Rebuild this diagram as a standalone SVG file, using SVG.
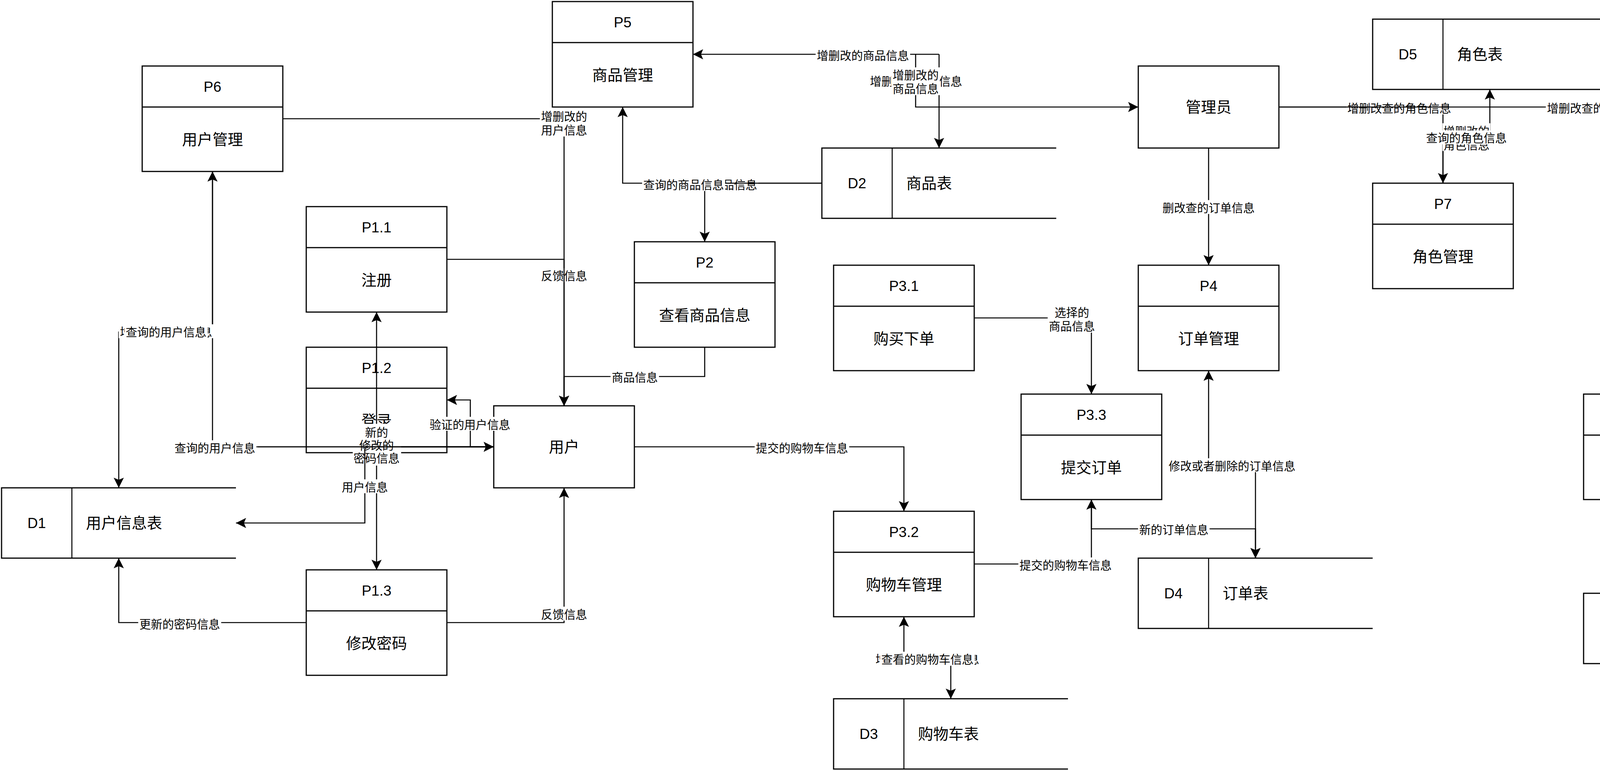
<svg xmlns="http://www.w3.org/2000/svg" width="4659" height="1974" viewBox="0 0 4659 1974">
<defs>
<style>
.n{fill:#fff;stroke:#000;stroke-width:3}
.s{fill:none;stroke:#000;stroke-width:3}
.d{fill:none;stroke:#000;stroke-width:2.6}
.e{fill:none;stroke:#000;stroke-width:2.7}
text{font-family:"Liberation Sans","Noto Sans CJK SC",sans-serif;fill:#000}
.id{font-size:37px;text-anchor:middle}
.nm{font-size:39px;text-anchor:middle}
.sn{font-size:39px}
.l{font-size:29.5px;text-anchor:middle}
.b{fill:#fff}
</style>
<marker id="a" viewBox="0 0 26 26" markerWidth="26" markerHeight="26" refX="26" refY="13" orient="auto" markerUnits="userSpaceOnUse"><path d="M0,0 L26,13 L0,26 L5.5,13 Z" fill="#000"/></marker>
</defs>
<rect x="0" y="0" width="4659" height="1974" fill="#fff"/>

<g id="P5"><rect class="n" x="1414" y="4" width="360" height="270"/><path class="s" d="M1414,109H1774"/><text class="id" x="1594" y="70">P5</text><text class="nm" x="1594" y="206">商品管理</text></g>
<g id="P6"><rect class="n" x="364" y="169" width="360" height="270"/><path class="s" d="M364,274H724"/><text class="id" x="544" y="235">P6</text><text class="nm" x="544" y="371">用户管理</text></g>
<g id="P1.1"><rect class="n" x="784" y="529" width="360" height="270"/><path class="s" d="M784,634H1144"/><text class="id" x="964" y="595">P1.1</text><text class="nm" x="964" y="731">注册</text></g>
<g id="P1.2"><rect class="n" x="784" y="889" width="360" height="270"/><path class="s" d="M784,994H1144"/><text class="id" x="964" y="955">P1.2</text><text class="nm" x="964" y="1091">登录</text></g>
<g id="P1.3"><rect class="n" x="784" y="1459" width="360" height="270"/><path class="s" d="M784,1564H1144"/><text class="id" x="964" y="1525">P1.3</text><text class="nm" x="964" y="1661">修改密码</text></g>
<g id="P2"><rect class="n" x="1624" y="619" width="360" height="270"/><path class="s" d="M1624,724H1984"/><text class="id" x="1804" y="685">P2</text><text class="nm" x="1804" y="821">查看商品信息</text></g>
<g id="P3.1"><rect class="n" x="2134" y="679" width="360" height="270"/><path class="s" d="M2134,784H2494"/><text class="id" x="2314" y="745">P3.1</text><text class="nm" x="2314" y="881">购买下单</text></g>
<g id="P3.2"><rect class="n" x="2134" y="1309" width="360" height="270"/><path class="s" d="M2134,1414H2494"/><text class="id" x="2314" y="1375">P3.2</text><text class="nm" x="2314" y="1511">购物车管理</text></g>
<g id="P3.3"><rect class="n" x="2614" y="1009" width="360" height="270"/><path class="s" d="M2614,1114H2974"/><text class="id" x="2794" y="1075">P3.3</text><text class="nm" x="2794" y="1211">提交订单</text></g>
<g id="P4"><rect class="n" x="2914" y="679" width="360" height="270"/><path class="s" d="M2914,784H3274"/><text class="id" x="3094" y="745">P4</text><text class="nm" x="3094" y="881">订单管理</text></g>
<g id="P7"><rect class="n" x="3514" y="469" width="360" height="270"/><path class="s" d="M3514,574H3874"/><text class="id" x="3694" y="535">P7</text><text class="nm" x="3694" y="671">角色管理</text></g>
<g id="P8"><rect class="n" x="4054" y="1009" width="360" height="270"/><path class="s" d="M4054,1114H4414"/><text class="id" x="4234" y="1075">P8</text><text class="nm" x="4234" y="1211">商品分类管理</text></g>

<g id="user"><rect class="n" x="1264" y="1039" width="360" height="210"/><text class="nm" x="1444" y="1158">用户</text></g>
<g id="admin"><rect class="n" x="2914" y="169" width="360" height="210"/><text class="nm" x="3094" y="288">管理员</text></g>

<g id="D1"><path class="s" d="M604,1249H4V1429H604"/><path class="d" d="M184,1249V1429"/><text class="id" x="94" y="1352">D1</text><text class="sn" x="220" y="1353">用户信息表</text></g>
<g id="D2"><path class="s" d="M2704,379H2104V559H2704"/><path class="d" d="M2284,379V559"/><text class="id" x="2194" y="482">D2</text><text class="sn" x="2320" y="483">商品表</text></g>
<g id="D3"><path class="s" d="M2734,1789H2134V1969H2734"/><path class="d" d="M2314,1789V1969"/><text class="id" x="2224" y="1892">D3</text><text class="sn" x="2350" y="1893">购物车表</text></g>
<g id="D4"><path class="s" d="M3514,1429H2914V1609H3514"/><path class="d" d="M3094,1429V1609"/><text class="id" x="3004" y="1532">D4</text><text class="sn" x="3130" y="1533">订单表</text></g>
<g id="D5"><path class="s" d="M4114,49H3514V229H4114"/><path class="d" d="M3694,49V229"/><text class="id" x="3604" y="152">D5</text><text class="sn" x="3730" y="153">角色表</text></g>
<g id="D6"><path class="s" d="M4654,1519H4054V1699H4654"/><path class="d" d="M4234,1519V1699"/><text class="id" x="4144" y="1622">D6</text><text class="sn" x="4270" y="1623">商品分类表</text></g>

<g id="connectors">
<path class="e" d="M1264,1144H964V799" marker-end="url(#a)"/>
<path class="e" d="M1264,1144H964V1459" marker-end="url(#a)"/>
<rect class="b" x="903" y="1085" width="124" height="107"/><text class="l"><tspan x="964" y="1117.6">新的</tspan><tspan x="964" y="1150.6">修改的</tspan><tspan x="964" y="1183.6">密码信息</tspan></text>
<path class="e" d="M1264,1144H934V1339H604" marker-end="url(#a)"/>
<rect class="b" x="872" y="1227.3" width="124" height="35.5"/><text class="l" x="934" y="1257.6">用户信息</text>
<path class="e" d="M660,1144H1264" marker-end="url(#a)"/>
<path class="e" d="M1264,1144H544V439" marker-end="url(#a)"/>
<rect class="b" x="443.8" y="1127.3" width="212.5" height="35.5"/><text class="l" x="550" y="1157.6">查询的用户信息</text>
<path class="e" d="M544,439V850H304V1249" marker-end="url(#a)"/>
<rect class="b" x="304" y="830.3" width="242" height="35.5"/><text class="l" x="425" y="860.6">增删改的用户信息</text>
<rect class="b" x="318.8" y="830.3" width="212.5" height="35.5"/><text class="l" x="425" y="860.6">查询的用户信息</text>
<path class="e" d="M1264,1144H1204V1024H1144" marker-end="url(#a)"/>
<rect class="b" x="1096.8" y="1067.3" width="212.5" height="35.5"/><text class="l" x="1203" y="1097.6">验证的用户信息</text>
<path class="e" d="M784,1594H304V1429" marker-end="url(#a)"/>
<rect class="b" x="353.8" y="1578.3" width="212.5" height="35.5"/><text class="l" x="460" y="1608.6">更新的密码信息</text>
<path class="e" d="M1144,1594H1444V1249" marker-end="url(#a)"/>
<rect class="b" x="1382" y="1553.3" width="124" height="35.5"/><text class="l" x="1444" y="1583.6">反馈信息</text>
<path class="e" d="M1144,664H1444V1039" marker-end="url(#a)"/>
<rect class="b" x="1382" y="686.9" width="124" height="35.5"/><text class="l" x="1444" y="717.2">反馈信息</text>
<path class="e" d="M724,304H1444V1039" marker-end="url(#a)"/>
<rect class="b" x="1382" y="278.5" width="124" height="71"/><text class="l"><tspan x="1444" y="308.9">增删改的</tspan><tspan x="1444" y="344.4">用户信息</tspan></text>
<path class="e" d="M1804,889V964H1444V1039" marker-end="url(#a)"/>
<rect class="b" x="1563" y="946.3" width="124" height="35.5"/><text class="l" x="1625" y="976.6">商品信息</text>
<path class="e" d="M1624,1144H2314V1309" marker-end="url(#a)"/>
<rect class="b" x="1932" y="1127.8" width="242" height="35.5"/><text class="l" x="2053" y="1158.1">提交的购物车信息</text>
<path class="e" d="M2494,814H2794V1009" marker-end="url(#a)"/>
<rect class="b" x="2682" y="780.5" width="124" height="71"/><text class="l"><tspan x="2744" y="810.9">选择的</tspan><tspan x="2744" y="846.4">商品信息</tspan></text>
<path class="e" d="M2494,1444H2794V1279" marker-end="url(#a)"/>
<rect class="b" x="2607" y="1427.3" width="242" height="35.5"/><text class="l" x="2728" y="1457.6">提交的购物车信息</text>
<path class="e" d="M2794,1279V1354H3214V1429" marker-end="url(#a)"/>
<rect class="b" x="2913.5" y="1336.3" width="183" height="35.5"/><text class="l" x="3005" y="1366.6">新的订单信息</text>
<path class="e" d="M3094,1193V949" marker-end="url(#a)"/>
<path class="e" d="M3094,1193H3214V1429" marker-end="url(#a)"/>
<rect class="b" x="2988.8" y="1173.3" width="330.5" height="35.5"/><text class="l" x="3154" y="1203.6">修改或者删除的订单信息</text>
<path class="e" d="M3094,379V679" marker-end="url(#a)"/>
<rect class="b" x="2973" y="512.3" width="242" height="35.5"/><text class="l" x="3094" y="542.6">删改查的订单信息</text>
<path class="e" d="M3274,274H3694V469" marker-end="url(#a)"/>
<rect class="b" x="3446.3" y="257.3" width="271.5" height="35.5"/><text class="l" x="3582" y="287.6">增删改查的角色信息</text>
<path class="e" d="M3274,274H4234V1009" marker-end="url(#a)"/>
<rect class="b" x="3957.3" y="257.3" width="330.5" height="35.5"/><text class="l" x="4122.5" y="287.6">增删改查的商品分类信息</text>
<path class="e" d="M3694,469V353H3814V229" marker-end="url(#a)"/>
<rect class="b" x="3693" y="315.5" width="122" height="71"/><text class="l"><tspan x="3754" y="347">增删改的</tspan><tspan x="3754" y="381.6">角色信息</tspan></text>
<rect class="b" x="3647.8" y="334" width="212.5" height="35.5"/><text class="l" x="3754" y="364.3">查询的角色信息</text>
<path class="e" d="M2404,139H1774" marker-end="url(#a)"/>
<path class="e" d="M2404,139V379" marker-end="url(#a)"/>
<path class="e" d="M2344,139V274H2914" marker-end="url(#a)"/>
<rect class="b" x="2088" y="122.3" width="242" height="35.5"/><text class="l" x="2209" y="152.6">增删改的商品信息</text>
<rect class="b" x="2224" y="188.8" width="242" height="35.5"/><text class="l" x="2345" y="219.1">增删改的商品信息</text>
<rect class="b" x="2282" y="172.5" width="124" height="71"/><text class="l"><tspan x="2344" y="202.9">增删改的</tspan><tspan x="2344" y="238.4">商品信息</tspan></text>
<path class="e" d="M2104,469H1804V619" marker-end="url(#a)"/>
<rect class="b" x="1728.8" y="453.3" width="212.5" height="35.5"/><text class="l" x="1835" y="483.6">查询的商品信息</text>
<path class="e" d="M2104,469H1594V274" marker-end="url(#a)"/>
<rect class="b" x="1643.8" y="453.3" width="212.5" height="35.5"/><text class="l" x="1750" y="483.6">查询的商品信息</text>
<path class="e" d="M4234,1401V1279" marker-end="url(#a)"/>
<path class="e" d="M4234,1401H4354V1519" marker-end="url(#a)"/>
<rect class="b" x="4203.5" y="1365.5" width="181" height="71"/><text class="l"><tspan x="4294" y="1395.9">增删改的</tspan><tspan x="4294" y="1431.4">商品分类信息</tspan></text>
<rect class="b" x="4158.3" y="1383.3" width="271.5" height="35.5"/><text class="l" x="4294" y="1413.6">查询的商品分类信息</text>
<path class="e" d="M2314,1688V1579" marker-end="url(#a)"/>
<path class="e" d="M2314,1688H2434V1789" marker-end="url(#a)"/>
<rect class="b" x="2238.3" y="1668.8" width="271.5" height="35.5"/><text class="l" x="2374" y="1699.1">增删改的购物车信息</text>
<rect class="b" x="2253" y="1668.8" width="242" height="35.5"/><text class="l" x="2374" y="1699.1">查看的购物车信息</text>
</g>
</svg>
